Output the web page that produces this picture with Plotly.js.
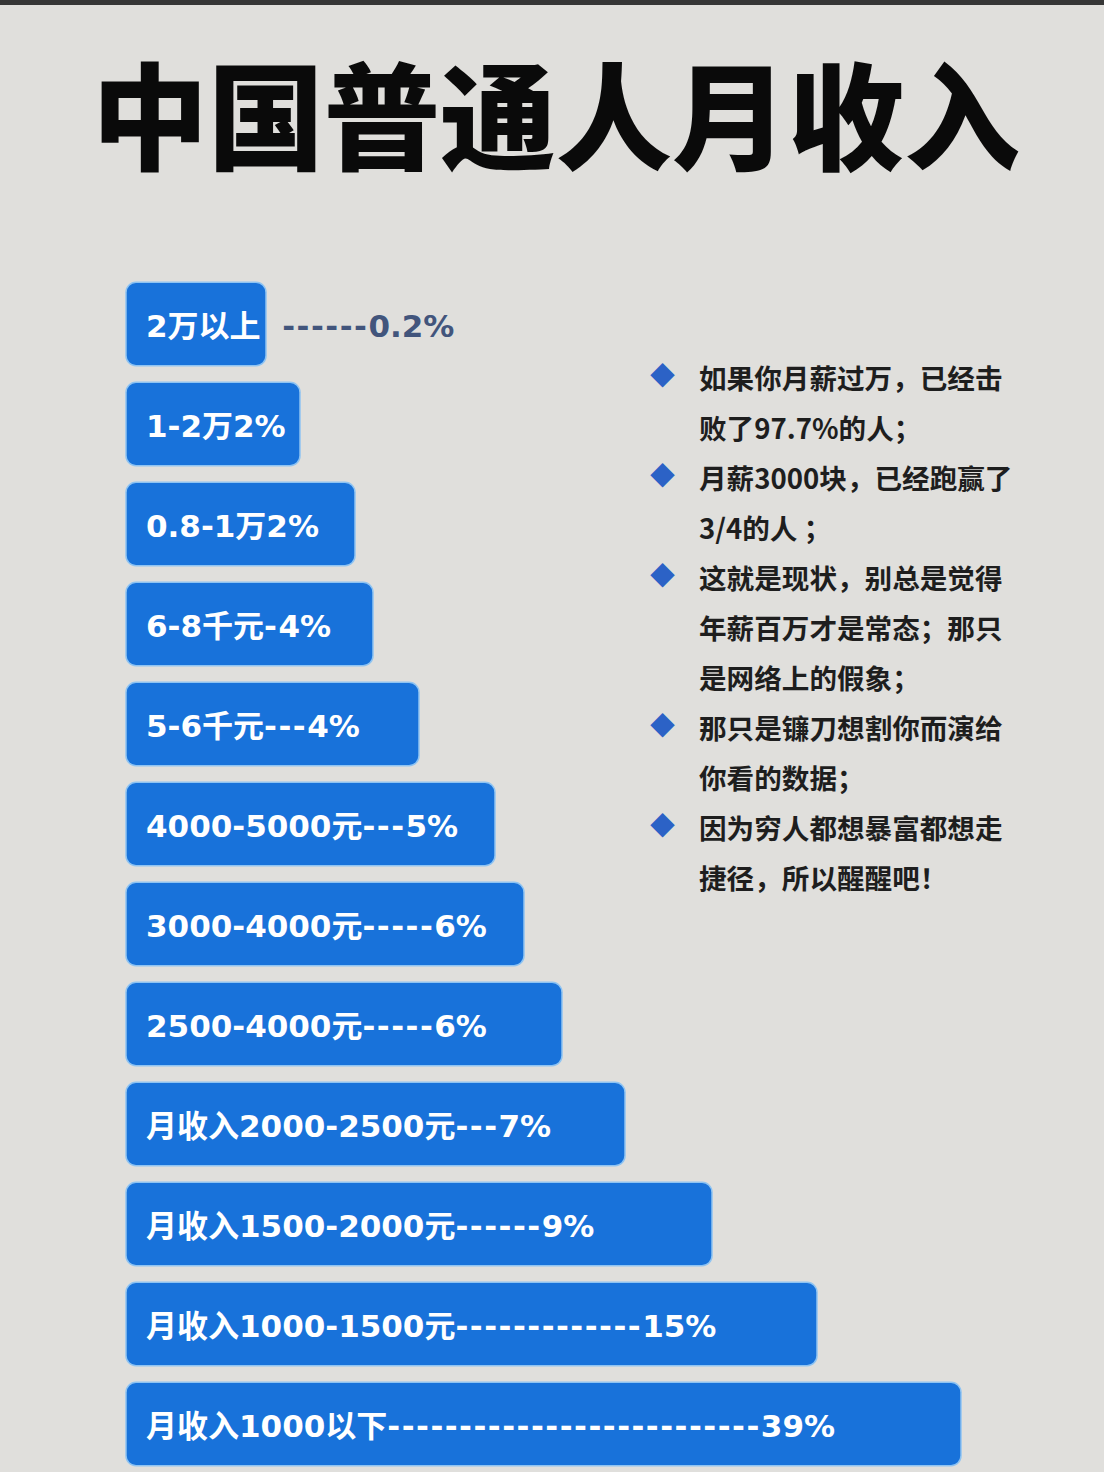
<!DOCTYPE html>
<html>
<head>
<meta charset="utf-8">
<script src="https://cdn.plot.ly/plotly-3.0.1.min.js"></script>
<style>
  html, body { margin: 0; padding: 0; background: #e0dfdc; }
  #chart { width: 1104px; height: 1472px; }
</style>
</head>
<body>
<div id="chart"></div>
<script>
// ---------- data ----------
const chartTitle = '中国普通人月收入';
const categories = ['2万以上', '1-2万', '0.8-1万', '6-8千元', '5-6千元', '4000-5000元',
  '3000-4000元', '2500-4000元', '月收入2000-2500元', '月收入1500-2000元',
  '月收入1000-1500元', '月收入1000以下'];
const shares = [0.2, 2, 2, 4, 4, 5, 6, 6, 7, 9, 15, 39];
const connectors = ['------', '', '', '-', '---', '---', '-----', '-----', '---', '------',
  '-------------', '--------------------------'];
// bar lengths as drawn in the infographic (display units)
const barLengths = [140, 174, 229, 247, 293, 369, 398, 436, 499, 586, 691, 835];
const notes = [
  {bullet: true,  text: '如果你月薪过万，已经击'},
  {bullet: false, text: '败了97.7%的人；'},
  {bullet: true,  text: '月薪3000块，已经跑赢了'},
  {bullet: false, text: '3/4的人 ；'},
  {bullet: true,  text: '这就是现状，别总是觉得'},
  {bullet: false, text: '年薪百万才是常态；那只'},
  {bullet: false, text: '是网络上的假象；'},
  {bullet: true,  text: '那只是镰刀想割你而演给'},
  {bullet: false, text: '你看的数据；'},
  {bullet: true,  text: '因为穷人都想暴富都想走'},
  {bullet: false, text: '捷径，所以醒醒吧！'}
];

// ---------- layout helpers ----------
const W = 1104, H = 1472;
const px = x => x / W;
const py = y => 1 - y / H;
const barFont = 'DejaVu Sans, "Noto Sans CJK SC", sans-serif';
const cjkFont = '"Noto Sans CJK SC", sans-serif';
const NB = '\u00A0';

const annotations = [];

// title
annotations.push({
  xref: 'paper', yref: 'paper', x: px(556), y: py(110),
  xanchor: 'center', yanchor: 'middle', showarrow: false,
  text: chartTitle,
  font: {family: cjkFont, size: 116, color: '#0a0a0a', weight: 900}
});

// bar labels
categories.forEach((c, i) => {
  const dash = connectors[i]
    ? '<span style="letter-spacing:1.5px">' + connectors[i] + '</span>' : '';
  let txt;
  if (i === 0) {
    txt = c + '<span style="color:#42557c">' + NB + NB +
      '<span style="letter-spacing:1.5px">' + connectors[i] + '</span>' + shares[i] + '%</span>';
  } else {
    txt = c + dash + shares[i] + '%';
  }
  annotations.push({
    xref: 'x', yref: 'y', x: 18, y: c,
    xanchor: 'left', yanchor: 'middle', showarrow: false,
    text: txt, yshift: -2,
    font: {family: barFont, size: 31, color: '#ffffff', weight: 700}
  });
});

// notes on the right
notes.forEach((n, i) => {
  const yy = 377 + i * 50;
  annotations.push({
    xref: 'paper', yref: 'paper', x: px(697), y: py(yy),
    xanchor: 'left', yanchor: 'middle', showarrow: false,
    text: n.text,
    font: {family: cjkFont, size: 27.6, color: '#1e1e1e', weight: 700}
  });
  if (n.bullet) {
    annotations.push({
      xref: 'paper', yref: 'paper', x: px(662), y: py(yy - 3),
      xanchor: 'center', yanchor: 'middle', showarrow: false,
      text: '◆',
      font: {family: cjkFont, size: 25, color: '#2c62c6'}
    });
  }
});

const trace = {
  type: 'bar',
  orientation: 'h',
  x: barLengths,
  y: categories,
  base: 0,
  marker: {
    color: '#1872da',
    cornerradius: 10,
    line: {color: '#8fc4f2', width: 1.5}
  },
  hoverinfo: 'skip'
};

const layout = {
  width: W, height: H,
  margin: {l: 0, r: 0, t: 0, b: 0},
  paper_bgcolor: '#e0dfdc',
  plot_bgcolor: 'rgba(0,0,0,0)',
  showlegend: false,
  bargap: 0.165,
  xaxis: {range: [-126, 978], visible: false, fixedrange: true},
  yaxis: {type: 'category', range: [11.48, -3.24], visible: false, fixedrange: true},
  shapes: [
    {type: 'rect', xref: 'paper', yref: 'paper', x0: 0, x1: 1, y0: py(5), y1: 1,
     fillcolor: '#363636', line: {width: 0}, layer: 'above'}
  ],
  annotations: annotations
};

Plotly.newPlot('chart', [trace], layout, {staticPlot: true, displayModeBar: false});
</script>
</body>
</html>
